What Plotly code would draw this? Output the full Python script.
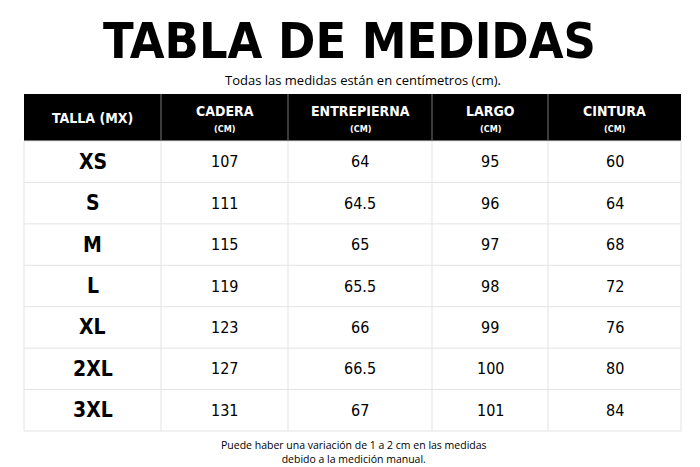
import plotly.graph_objects as go

tallas = ["XS", "S", "M", "L", "XL", "2XL", "3XL"]
cadera = [107, 111, 115, 119, 123, 127, 131]
entrepierna = ["64", "64.5", "65", "65.5", "66", "66.5", "67"]
largo = [95, 96, 97, 98, 99, 100, 101]
cintura = [60, 64, 68, 72, 76, 80, 84]
headers = ["TALLA (MX)", "CADERA", "ENTREPIERNA", "LARGO", "CINTURA"]

W, H = 700, 467
FONT = "DejaVu Sans Condensed, Liberation Sans Narrow, sans-serif"
col_edges = [16, 153, 280, 424, 540, 673]
top, hdr_bot, bot = 86, 133, 423
row_h = (bot - hdr_bot) / len(tallas)

fig = go.Figure()
shapes = [dict(type="rect", x0=col_edges[0], x1=col_edges[-1], y0=top, y1=hdr_bot,
               fillcolor="black", line=dict(width=0), layer="below")]
for i in range(len(tallas) + 1):
    y = hdr_bot + i * row_h
    shapes.append(dict(type="line", x0=col_edges[0], x1=col_edges[-1], y0=y, y1=y,
                       line=dict(color="#e3e3e3", width=1)))
for j, x in enumerate(col_edges):
    shapes.append(dict(type="line", x0=x, x1=x, y0=hdr_bot, y1=bot,
                       line=dict(color="#e3e3e3", width=1)))
    if 0 < j < len(col_edges) - 1:
        shapes.append(dict(type="line", x0=x, x1=x, y0=top, y1=hdr_bot,
                           line=dict(color="#777777", width=1)))

ann = []
def txt(x, y, t, size, family=FONT, **kw):
    ann.append(dict(x=x, y=y, xref="x", yref="y", text=t, showarrow=False,
                    xanchor="center", yanchor="middle",
                    font=dict(family=family, size=size, color=kw.get("color", "black"))))

centers = [(col_edges[k] + col_edges[k + 1]) / 2 for k in range(5)]
txt(centers[0], (top + hdr_bot) / 2, "<b>" + headers[0] + "</b>", 14, color="white")
for k in range(1, 5):
    txt(centers[k], 103, "<b>" + headers[k] + "</b>", 14, color="white")
    txt(centers[k], 121, "<b>(CM)</b>", 9, color="white")
cols = [tallas, cadera, entrepierna, largo, cintura]
for i in range(len(tallas)):
    yc = hdr_bot + (i + 0.5) * row_h
    for k in range(5):
        v = cols[k][i]
        txt(centers[k], yc, f"<b>{v}</b>" if k == 0 else str(v), 21 if k == 0 else 16)

txt(341, 33, "<b>TABLA DE MEDIDAS</b>", 50)
txt(355, 72, "Todas las medidas están en centímetros (cm).", 13, family="Open Sans, sans-serif")
txt(346, 444, "Puede haber una variación de 1 a 2 cm en las medidas<br>debido a la medición manual.",
    10.5, family="Open Sans, sans-serif")

fig.update_layout(width=W, height=H, margin=dict(l=0, r=0, t=0, b=0),
                  paper_bgcolor="white", plot_bgcolor="white",
                  shapes=shapes, annotations=ann, showlegend=False,
                  xaxis=dict(range=[0, W], visible=False, fixedrange=True),
                  yaxis=dict(range=[H, 0], visible=False, fixedrange=True))
fig.write_html("out.html")
